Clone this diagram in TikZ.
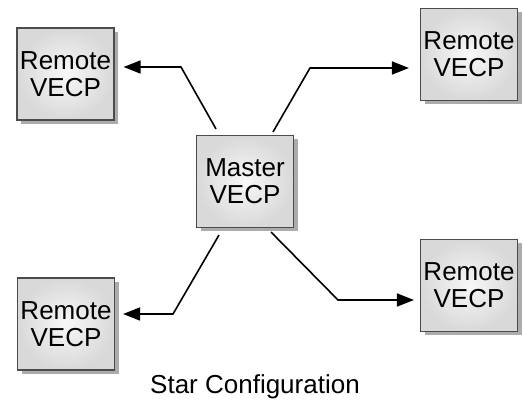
\documentclass[tikz,border=0pt]{standalone}
\usepackage{fontspec}
\setmainfont{Liberation Sans}
\usetikzlibrary{arrows.meta,shadows}
\begin{document}
\begin{tikzpicture}[x=1pt,y=1pt,
  vecp/.style={draw=black!70,line width=1.1pt,minimum width=97pt,minimum height=92pt,
    inner sep=0pt,align=center,font=\fontsize{26}{27}\selectfont,
    inner color=gray!6,outer color=gray!30,
    drop shadow={shadow xshift=4pt,shadow yshift=-4pt,fill=gray!65,opacity=1}},
  link/.style={line width=1.6pt,-{Triangle[length=17pt,width=13pt]}}]
\useasboundingbox (0,0) rectangle (523,404);
\node[vecp] (master) at (245,222.5) {Master\\VECP};
\node[vecp] (remTL) at (65.5,330) {Remote\\VECP};
\node[vecp] (remTR) at (469,349.5) {Remote\\VECP};
\node[vecp] (remBL) at (66,80) {Remote\\VECP};
\node[vecp] (remBR) at (469,118.5) {Remote\\VECP};
\coordinate (bendTL) at (181,337);
\coordinate (bendTR) at (310,336);
\coordinate (bendBL) at (173,90);
\coordinate (bendBR) at (338,104);
\draw[link,shorten >=9pt] ([xshift=-29pt,yshift=6pt]master.north) -- (bendTL) -- (bendTL -| remTL.east);
\draw[link,shorten >=11pt] ([xshift=28pt,yshift=3pt]master.north) -- (bendTR) -- (bendTR -| remTR.west);
\draw[link,shorten >=8pt] ([xshift=-26pt,yshift=-7pt]master.south) -- (bendBL) -- (bendBL -| remBL.east);
\draw[link,shorten >=6pt] ([xshift=26pt,yshift=-4pt]master.south) -- (bendBR) -- (bendBR -| remBR.west);
\node[font=\fontsize{26}{27}\selectfont] (caption) at (255,17) {Star Configuration};
\end{tikzpicture}
\end{document}
